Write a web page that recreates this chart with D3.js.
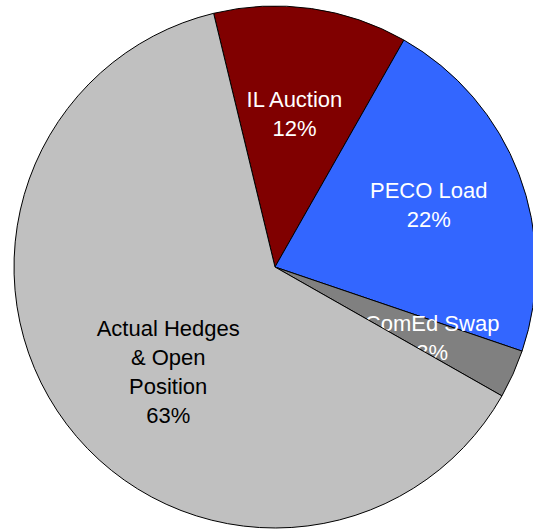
<!DOCTYPE html>
<meta charset="utf-8">
<style>
body { margin: 0; background: #fff; }
.slice path { stroke: #000; stroke-width: 1; }
.label { font: 22px "Liberation Sans", Arial, sans-serif; }
</style>
<svg id="chart" width="533" height="531"></svg>
<script src="https://cdn.jsdelivr.net/npm/d3@7"></script>
<script>
// slices in clockwise order starting from the top
var categories = ["IL Auction", "PECO Load", "ComEd Swap", "Actual Hedges & Open Position"];
var labelLines = [["IL Auction"], ["PECO Load"], ["ComEd Swap"], ["Actual Hedges", "& Open", "Position"]];
var shares = [12, 22, 3, 63];

var colors = ["#800000", "#3366ff", "#808080", "#c0c0c0"];
var textColors = ["#fff", "#fff", "#fff", "#000"];
// how far out the label sits (fraction of radius) and small nudges
var labelRadius = [0.59, 0.63, 0.66, 0.57];
var labelNudge = [[-2, -1], [0, -4], [0, 0], [12, 15]];

var svg = d3.select("#chart"),
    cx = 275, cy = 267, radius = 261,
    g = svg.append("g").attr("transform", "translate(" + cx + "," + cy + ")");

var start = -13.6 * Math.PI / 180;
var pie = d3.pie()
    .sort(null)
    .startAngle(start)
    .endAngle(start + 2 * Math.PI)
    .value(function(d) { return d; });

var arc = d3.arc().innerRadius(0).outerRadius(radius);

var slices = g.selectAll(".slice")
    .data(pie(shares))
    .enter().append("g")
      .attr("class", "slice");

slices.append("path")
    .attr("d", arc)
    .attr("fill", function(d, i) { return colors[i]; });

var lineH = 29;
slices.append("text")
    .attr("class", "label")
    .attr("text-anchor", "middle")
    .attr("fill", function(d, i) { return textColors[i]; })
    .attr("transform", function(d, i) {
      var r = radius * labelRadius[i];
      var c = d3.arc().innerRadius(r).outerRadius(r).centroid(d);
      return "translate(" + (c[0] + labelNudge[i][0]) + "," + (c[1] + labelNudge[i][1]) + ")";
    })
    .each(function(d, i) {
      var lines = labelLines[i].concat([shares[i] + "%"]);
      var top = -(lines.length - 1) * lineH / 2;
      d3.select(this).selectAll("tspan")
        .data(lines)
        .enter().append("tspan")
          .attr("x", 0)
          .attr("y", function(t, j) { return top + j * lineH; })
          .attr("dy", "0.35em")
          .text(function(t) { return t; });
    });
</script>
